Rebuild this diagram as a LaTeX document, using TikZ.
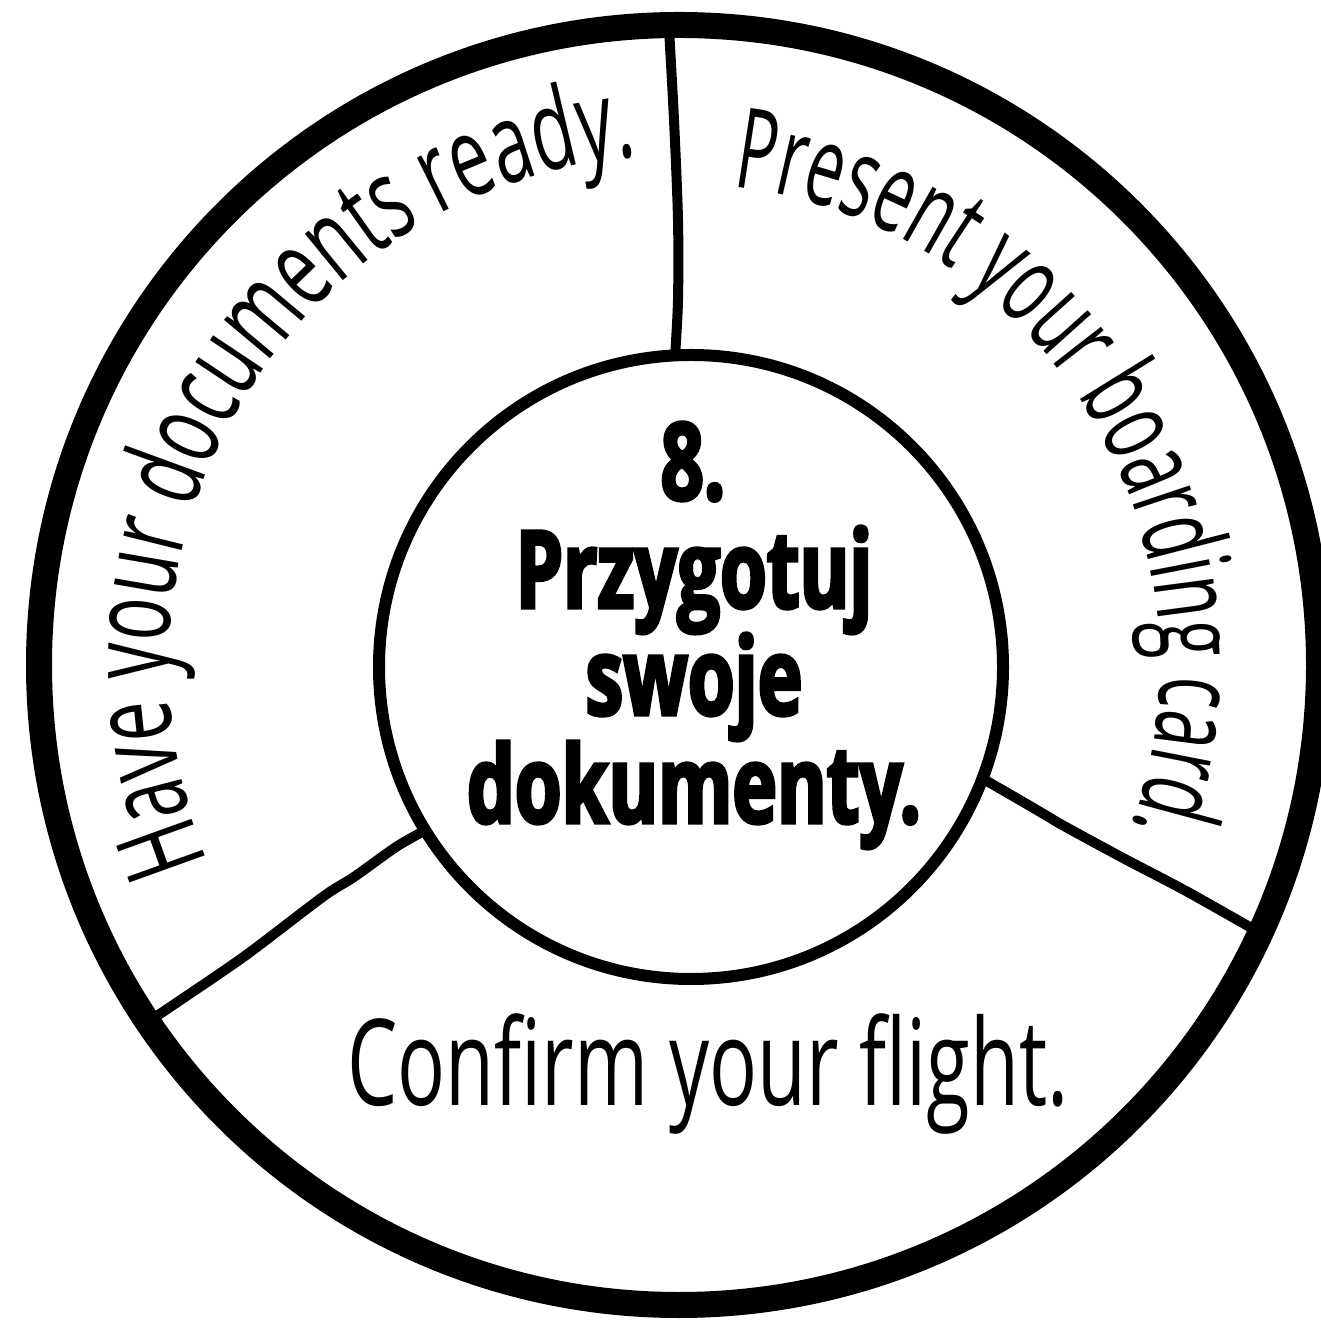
\documentclass[tikz,border=0pt]{standalone}
\usepackage{fontspec}
\usetikzlibrary{decorations.text}
\newfontfamily\haveFont[FakeStretch=0.64]{Open Sans}
\newfontfamily\presentFont[FakeStretch=0.595]{Open Sans}
\newfontfamily\confirmFont[FakeStretch=0.664]{Open Sans}
\newfontfamily\boldfont[FakeStretch=0.70,FakeBold=3]{Open Sans Bold}
\tikzset{
  divider/.style={line width=10pt, line cap=round, line join=round},
  ctext/.style={font=\boldfont\fontsize{108}{108}\selectfont, anchor=base, inner sep=0pt},
  ringtext/.style={font=\confirmFont\fontsize{120}{120}\selectfont, anchor=base, inner sep=0pt}
}
\begin{document}
\begin{tikzpicture}[x=1pt,y=1pt]
\useasboundingbox (0,0) rectangle (1321,1319);
\clip (0,0) rectangle (1321,1319);
\fill[white] (0,0) rectangle (1321,1319);
% dividers
\draw[divider] plot[smooth] coordinates {(669,1290) (674,1199) (678,1099) (678,1019) (675,962)};
\draw[divider] plot[smooth] coordinates {(148,297) (185,322) (219,345) (253,369) (324,423) (354,442) (396,472) (424,488)};
\draw[divider] plot[smooth] coordinates {(985,539) (1018,520) (1047,503) (1064,493) (1123,461) (1186,428) (1255,389)};
% circles
\draw[line width=26pt] (679,654) circle[radius=640];
\node[circle, draw, fill=white, line width=12pt, minimum size=624pt, inner sep=0pt] (inner) at (691,652) {};
% ring texts
\path[decorate, decoration={text along path, text align=left,
  text={|\haveFont\fontsize{112}{112}\selectfont|Have your documents ready.}}]
  (679,654) ++(202.7:510) arc[start angle=202.7, end angle=70, radius=510];
\path[decorate, decoration={text along path, text align=left,
  text={|\presentFont\fontsize{112}{112}\selectfont|Present your boarding card.}}]
  (679,654) ++(83.6:481) arc[start angle=83.6, end angle=-50, radius=481];
\node[ringtext] (confirm) at (708,213) {Confirm your flight.};
% centre text
\node[ctext] (l1) at (693,819) {8.};
\node[ctext] (l2) at (694,711) {Przygotuj};
\node[ctext] (l3) at (694,604) {swoje};
\node[ctext] (l4) at (694,496) {dokumenty.};
\end{tikzpicture}
\end{document}
